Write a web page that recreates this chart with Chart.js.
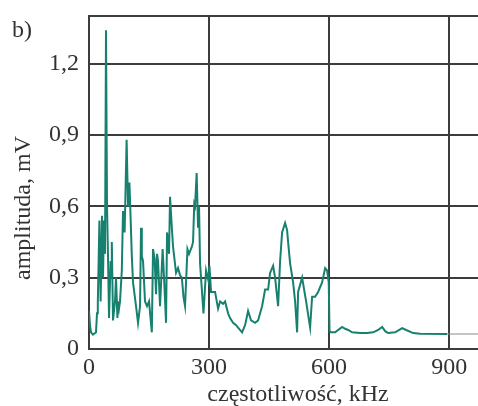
<!DOCTYPE html>
<html>
<head>
<meta charset="utf-8">
<script src="https://cdn.jsdelivr.net/npm/chart.js@4.4.0/dist/chart.umd.min.js"></script>
<style>
  html, body { margin: 0; padding: 0; background: #fff; }
  #wrap { width: 478px; height: 406px; }
</style>
</head>
<body>
<div id="wrap"><canvas id="chart"></canvas></div>
<script>
// spectrum trace (kHz, mV)
const freq = [0, 2.5, 5, 10, 17.5, 20, 22, 26, 29, 31, 32.5, 35, 37.5, 40, 42.5, 45, 47.5, 50, 54, 55, 57, 60,
  65, 67.5, 71, 72.5, 75, 77.5, 82, 85, 89, 94, 97.5, 101, 104, 107, 110, 117.5, 122.5, 127.5, 130, 132, 135, 140, 145, 150,
  157, 160, 164, 167.5, 170, 172.5, 177.5, 184, 187.5, 192.5, 195, 200, 202.5, 207, 210, 217.5, 222.5, 227.5, 232, 236, 240, 246,
  250, 257, 260, 263, 265, 269, 272.5, 275, 277.5, 286, 292.5, 298, 301, 305, 315, 322.5, 327.5, 335, 340, 347.5, 352.5,
  360, 367.5, 372.5, 382.5, 390, 397.5, 405, 415, 422.5, 432.5, 440, 447.5, 452.5, 460, 465, 472.5, 477.5, 482.5, 490, 495,
  497.5, 502.5, 510, 515, 520, 522.5, 532.5, 537.5, 542.5, 552.5, 557.5, 565, 572.5, 582.5, 590, 595, 599, 601, 602.5, 615,
  632.5, 640, 647.5, 657.5, 677.5, 695, 710, 722.5, 732.5, 740, 747.5, 765, 782.5, 792.5, 810, 827.5, 895]
const amp = [0.16, 0.1, 0.07, 0.06, 0.07, 0.15, 0.19, 0.54, 0.2, 0.4, 0.56, 0.3, 0.54, 0.4, 1.34, 0.6, 0.39, 0.13, 0.37, 0.3, 0.45, 0.12,
  0.2, 0.3, 0.13, 0.2, 0.17, 0.2, 0.33, 0.58, 0.49, 0.88, 0.6, 0.7, 0.55, 0.39, 0.28, 0.18, 0.11, 0.18, 0.51, 0.39, 0.37, 0.2, 0.18, 0.2,
  0.07, 0.42, 0.38, 0.23, 0.4, 0.37, 0.18, 0.42, 0.3, 0.11, 0.49, 0.4, 0.64, 0.51, 0.43, 0.32, 0.34, 0.31, 0.3, 0.22, 0.18, 0.42,
  0.4, 0.43, 0.45, 0.61, 0.6, 0.74, 0.51, 0.6, 0.36, 0.15, 0.33, 0.29, 0.35, 0.24, 0.24, 0.17, 0.2, 0.19, 0.2, 0.15, 0.13,
  0.11, 0.1, 0.09, 0.07, 0.1, 0.16, 0.12, 0.11, 0.12, 0.18, 0.25, 0.25, 0.32, 0.35, 0.3, 0.18, 0.37, 0.49, 0.53, 0.5,
  0.45, 0.36, 0.28, 0.2, 0.07, 0.24, 0.3, 0.25, 0.2, 0.09, 0.22, 0.22, 0.24, 0.28, 0.34, 0.33, 0.28, 0.08, 0.07, 0.07,
  0.093, 0.085, 0.08, 0.07, 0.067, 0.067, 0.07, 0.08, 0.093, 0.075, 0.067, 0.07, 0.088, 0.08, 0.067, 0.064, 0.063]

// thin grey continuation past the end of the trace
const tailFreq = [895, 972]
const tailAmp = [0.063, 0.063]

const xTicks = [0, 300, 600, 900]
const xTickLabels = ['0', '300', '600', '900']
const yTicks = [0, 0.3, 0.6, 0.9, 1.2]
const yTickLabels = ['0', '0,3', '0,6', '0,9', '1,2']

const panelLabel = 'b)'
const xTitle = 'częstotliwość, kHz'
const yTitle = 'amplituda, mV'

const gridColor = '#3c3c3c'
const textColor = '#333'
const serif = '"Liberation Serif", "DejaVu Serif", serif'

// frame top edge, panel letter and axis titles
const decor = {
  id: 'decor',
  afterDraw(chart) {
    const { ctx, chartArea: a } = chart
    ctx.save()
    ctx.strokeStyle = gridColor
    ctx.lineWidth = 2
    ctx.beginPath()
    ctx.moveTo(a.left, a.top)
    ctx.lineTo(a.right, a.top)
    ctx.stroke()

    ctx.fillStyle = textColor
    ctx.font = '24px ' + serif
    ctx.textAlign = 'left'
    ctx.textBaseline = 'alphabetic'
    ctx.fillText(panelLabel, 12, 37)

    ctx.textAlign = 'center'
    ctx.textBaseline = 'middle'
    ctx.fillText(xTitle, 298, 395)

    ctx.translate(24, 208)
    ctx.rotate(-Math.PI / 2)
    ctx.fillText(yTitle, 0, 0)
    ctx.restore()
  }
}

const ctx = document.getElementById('chart').getContext('2d')
new Chart(ctx, {
  type: 'line',
  data: {
    datasets: [
      {
        data: freq.map((f, i) => ({ x: f, y: amp[i] })),
        borderColor: '#17816f',
        borderWidth: 2,
        pointRadius: 0,
        tension: 0,
        fill: false
      },
      {
        data: tailFreq.map((f, i) => ({ x: f, y: tailAmp[i] })),
        borderColor: '#8a8a8a',
        borderWidth: 1,
        pointRadius: 0,
        fill: false
      }
    ]
  },
  options: {
    responsive: true,
    maintainAspectRatio: false,
    animation: false,
    layout: { padding: { top: 16, right: 0, left: 0, bottom: 0 } },
    plugins: {
      legend: { display: false },
      tooltip: { enabled: false }
    },
    scales: {
      x: {
        type: 'linear',
        min: 0,
        max: 972,
        afterBuildTicks: (scale) => { scale.ticks = xTicks.map(v => ({ value: v })) },
        afterFit: (scale) => { scale.height = 57; scale.paddingRight = 0 },
        grid: { color: gridColor, lineWidth: 2, drawTicks: false },
        border: { color: gridColor, width: 2 },
        ticks: {
          padding: 4,
          color: textColor,
          font: { family: serif, size: 24 },
          maxRotation: 0,
          callback: (v, i) => xTickLabels[i]
        }
      },
      y: {
        min: 0,
        max: 1.4,
        afterBuildTicks: (scale) => { scale.ticks = yTicks.map(v => ({ value: v })) },
        afterFit: (scale) => { scale.width = 89; scale.paddingTop = 0; scale.paddingBottom = 0 },
        grid: { color: gridColor, lineWidth: 2, drawTicks: false },
        border: { color: gridColor, width: 2 },
        ticks: {
          padding: 10,
          color: textColor,
          font: { family: serif, size: 24 },
          callback: (v, i) => yTickLabels[i]
        }
      }
    }
  },
  plugins: [decor]
})
</script>
</body>
</html>
